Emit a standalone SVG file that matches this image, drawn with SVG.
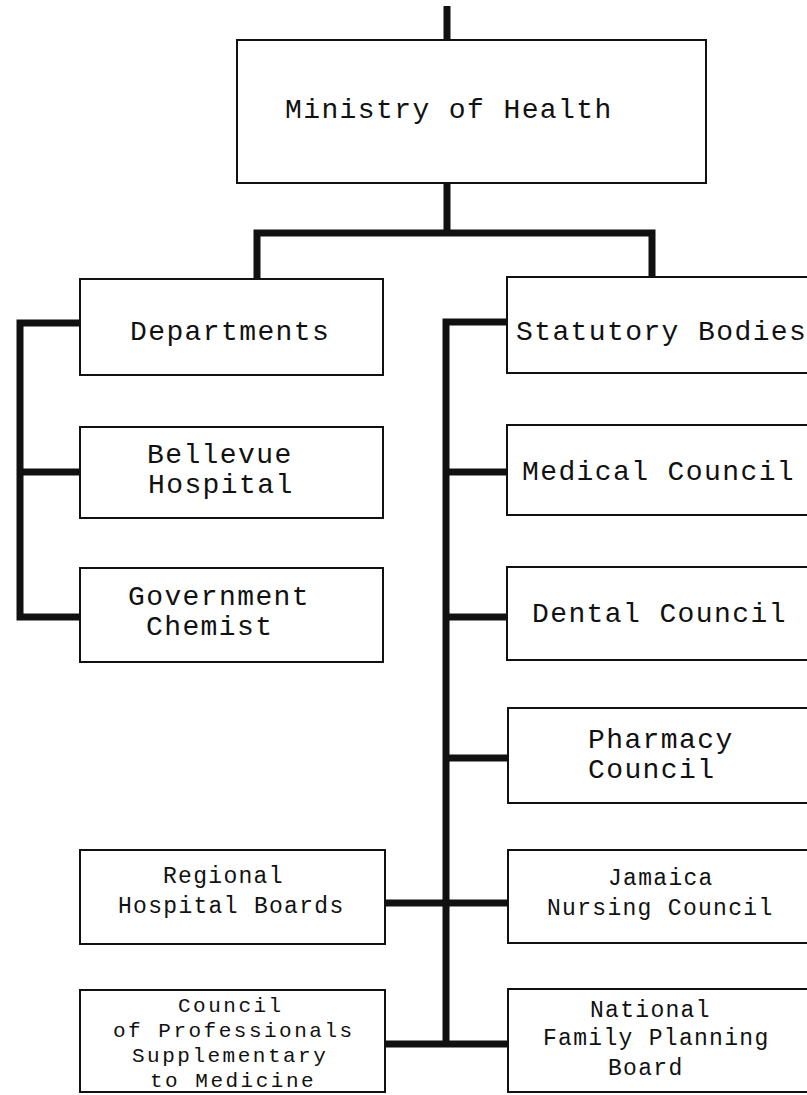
<svg xmlns="http://www.w3.org/2000/svg" width="807" height="1095" viewBox="0 0 807 1095">
<style>
.box{fill:#fff;stroke:#111;stroke-width:2}
.c{fill:none;stroke:#111;stroke-width:7;stroke-linejoin:miter;stroke-linecap:butt}
.b{font-family:"Liberation Mono","Courier New",monospace;font-size:28px;letter-spacing:1.4px;fill:#111}
.s{font-family:"Liberation Mono","Courier New",monospace;font-size:23px;letter-spacing:1.3px;fill:#111}
.t{font-family:"Liberation Mono","Courier New",monospace;font-size:21px;letter-spacing:2.5px;fill:#111}
</style>
<rect width="807" height="1095" fill="#fff"/>
<g id="connectors">
<path class="c" d="M447,6 V41"/>
<path class="c" d="M447,183 V233"/>
<path class="c" d="M257,280 V233 H652 V278"/>
<path class="c" d="M81,323 H20 V617 H81"/>
<path class="c" d="M20,472 H81"/>
<path class="c" d="M508,322 H446 V1044"/>
<path class="c" d="M446,472 H508"/>
<path class="c" d="M446,617 H508"/>
<path class="c" d="M446,758 H509"/>
<path class="c" d="M384,903 H509"/>
<path class="c" d="M384,1044 H509"/>
</g>
<g id="ministry">
<rect class="box" x="237" y="40" width="469" height="143"/>
<text class="b" x="285" y="118">Ministry of Health</text>
</g>
<g id="departments">
<rect class="box" x="80" y="279" width="303" height="96"/>
<text class="b" x="130" y="340">Departments</text>
</g>
<g id="bellevue">
<rect class="box" x="80" y="427" width="303" height="91"/>
<text class="b" x="147" y="463">Bellevue</text>
<text class="b" x="148" y="493">Hospital</text>
</g>
<g id="chemist">
<rect class="box" x="80" y="568" width="303" height="94"/>
<text class="b" x="128" y="605">Government</text>
<text class="b" x="146" y="635">Chemist</text>
</g>
<g id="statutory">
<rect class="box" x="507" y="277" width="330" height="96"/>
<text class="b" x="516" y="340">Statutory Bodies</text>
</g>
<g id="medical">
<rect class="box" x="507" y="425" width="330" height="90"/>
<text class="b" x="522" y="480">Medical Council</text>
</g>
<g id="dental">
<rect class="box" x="507" y="567" width="330" height="93"/>
<text class="b" x="532" y="622">Dental Council</text>
</g>
<g id="pharmacy">
<rect class="box" x="508" y="708" width="330" height="95"/>
<text class="b" x="588" y="748">Pharmacy</text>
<text class="b" x="588" y="778">Council</text>
</g>
<g id="nursing">
<rect class="box" x="508" y="850" width="330" height="93"/>
<text class="s" x="608" y="885">Jamaica</text>
<text class="s" x="547" y="915">Nursing Council</text>
</g>
<g id="familyplanning">
<rect class="box" x="508" y="989" width="330" height="103"/>
<text class="s" x="590" y="1017">National</text>
<text class="s" x="543" y="1045">Family Planning</text>
<text class="s" x="608" y="1075">Board</text>
</g>
<g id="regional">
<rect class="box" x="80" y="850" width="305" height="94"/>
<text class="s" x="163" y="883">Regional</text>
<text class="s" x="118" y="913">Hospital Boards</text>
</g>
<g id="professionals">
<rect class="box" x="80" y="990" width="305" height="102"/>
<text class="t" x="178" y="1012">Council</text>
<text class="t" x="113" y="1037">of Professionals</text>
<text class="t" x="132" y="1062">Supplementary</text>
<text class="t" x="150" y="1087">to Medicine</text>
</g>
</svg>
